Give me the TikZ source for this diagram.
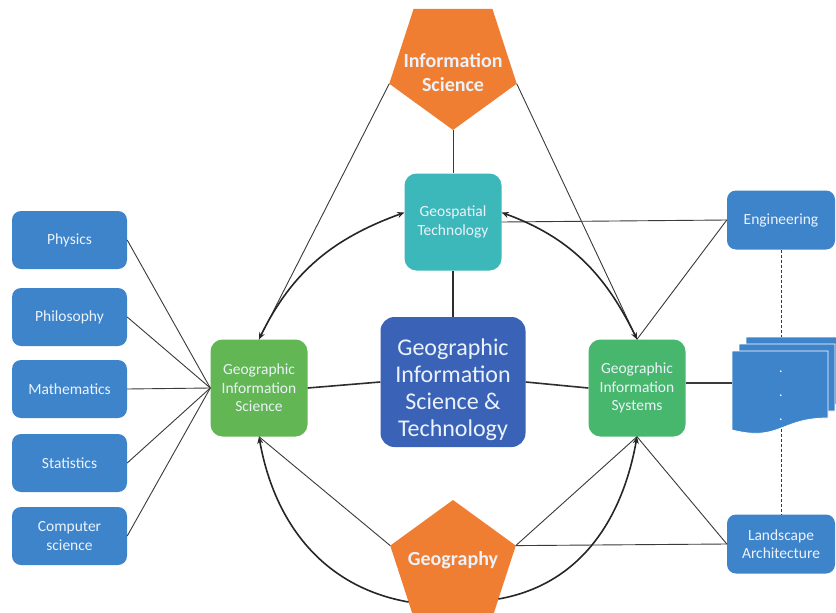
\documentclass[tikz,border=0pt]{standalone}
\usepackage{fontspec}
\setmainfont{Carlito}
\usetikzlibrary{shapes.geometric,arrows.meta}

\definecolor{boxblue}{RGB}{62,132,203}
\definecolor{coreblue}{RGB}{58,99,183}
\definecolor{tealbox}{RGB}{60,184,186}
\definecolor{greenL}{RGB}{98,182,84}
\definecolor{greenR}{RGB}{72,183,110}
\definecolor{orangeP}{RGB}{240,126,50}
\definecolor{linegray}{RGB}{58,58,58}
\definecolor{labelwhite}{RGB}{236,242,250}

\begin{document}
\begin{tikzpicture}[x=1pt,y=1pt,
  box/.style={rounded corners=9pt, draw=none, text=labelwhite, align=center,
    inner sep=2pt, font=\fontsize{15.5}{18.5}\selectfont},
  sidebox/.style={box, fill=boxblue, minimum width=115pt, minimum height=58pt},
  rightbox/.style={box, fill=boxblue, minimum width=108pt, minimum height=59pt},
  hubbox/.style={box, minimum width=97pt, minimum height=97pt, rounded corners=12pt},
  corebox/.style={box, fill=coreblue, minimum width=145pt, minimum height=130pt,
    rounded corners=14pt, font=\fontsize{24}{27}\selectfont},
  penta/.style={regular polygon, regular polygon sides=5, fill=orangeP, draw=none,
    inner sep=0pt, outer sep=0pt},
  pentext/.style={text=labelwhite, align=center, font=\fontsize{20}{24}\selectfont\bfseries},
  link/.style={draw=linegray, line width=0.9pt},
  thick link/.style={draw=linegray!80!black, line width=1.6pt},
  dashlink/.style={draw=linegray, line width=1pt, dash pattern=on 3pt off 2pt},
  curved/.style={draw=black!85, line width=1.6pt},
  tipped/.style={-{Stealth[length=7pt,width=6pt]}},
  twotipped/.style={{Stealth[length=7pt,width=6pt]}-{Stealth[length=7pt,width=6pt]}},
]
% canvas
\fill[white] (0,0) rectangle (836,-613);
\useasboundingbox (0,0) rectangle (836,-613);

% disciplines on the left
\node[sidebox] (phys)  at (69.5,-240) {Physics};
\node[sidebox] (philo) at (69.5,-317) {Philosophy};
\node[sidebox] (math)  at (69.5,-389) {Mathematics};
\node[sidebox] (stat)  at (69.5,-463) {Statistics};
\node[sidebox] (comp)  at (69.5,-536) {Computer\\science};

% central structure
\node[hubbox, fill=tealbox] (geo)    at (453,-222) {Geospatial\\Technology};
\node[corebox] (core) at (453,-382)
  {\rule{0pt}{33pt}Geographic\\Information\\Science \&\\Technology};
\node[hubbox, fill=greenL] (gisci)  at (259,-388) {Geographic\\Information\\Science};
\node[hubbox, fill=greenR] (gisys)  at (637,-388) {Geographic\\Information\\Systems};

% pentagons
\node[penta, shape border rotate=180, minimum size=134pt] (info) at (453,-63) {};
\node[pentext] (infolbl) at (453,-73) {Information\\Science};
\node[penta, minimum size=132pt] (geog) at (453,-566) {};
\node[pentext] (geoglbl) at (453,-560) {Geography};

% right column
\node[rightbox] (eng)  at (781,-220) {Engineering};
\node[rightbox] (land) at (781,-544) {Landscape\\Architecture};

% stack of documents
\foreach \d in {14,7,0}{
  \begin{scope}[shift={(\d,\d)}]
    \filldraw[fill=boxblue, draw=white, line width=0.8pt]
      (732,-351) -- (828,-351) -- (828,-418)
      .. controls (780,-418) and (780,-442) .. (732,-430) -- cycle;
  \end{scope}
}
\node[minimum width=98pt, minimum height=92pt, inner sep=0pt] (stack) at (781,-383) {};
\node[text=white, align=center, font=\fontsize{14}{24}\selectfont] (dots) at (781,-396) {.\\.\\.};

% left disciplines feed the science hub
\foreach \n in {phys,philo,math,stat,comp}{
  \draw[link] (\n.east) -- (gisci.west);
}

% hub spokes
\draw[thick link] (geo.south) -- (core.north);
\draw[thick link] (gisci.east) -- (core.west);
\draw[thick link] (core.east) -- (gisys.west);
\draw[link, line width=1.3pt] (gisys.east |- stack.west) -- (stack.west);

% information science ties
\draw[link] (info.270) -- (geo.north);
\draw[link] (info.198) -- (gisci.north);
\draw[link] (info.342) -- (gisys.north);

% engineering ties
\draw[link] (geo.east) -- (eng.west);
\draw[link] (gisys.north) -- (eng.west);

% geography and landscape ties
\draw[link] (geog.162) -- (gisci.south);
\draw[link] (geog.18) -- (gisys.south);
\draw[link] (geog.18) -- (land.west);
\draw[link] (gisys.south) -- (land.west);

% dashed column
\draw[dashlink] (eng.south) -- (stack.north);
\draw[dashlink] (stack.south) -- (land.north);

% curved exchanges
\draw[curved, twotipped] (geo.169) to[out=200, in=64] (gisci.north);
\draw[curved, twotipped] (geo.11) to[out=-20, in=116] (gisys.north);
\draw[curved, tipped] (geog.219) to[out=170, in=280] (gisci.south);
\draw[curved, tipped] (geog.324) to[out=10, in=260] (gisys.south);
\end{tikzpicture}
\end{document}
